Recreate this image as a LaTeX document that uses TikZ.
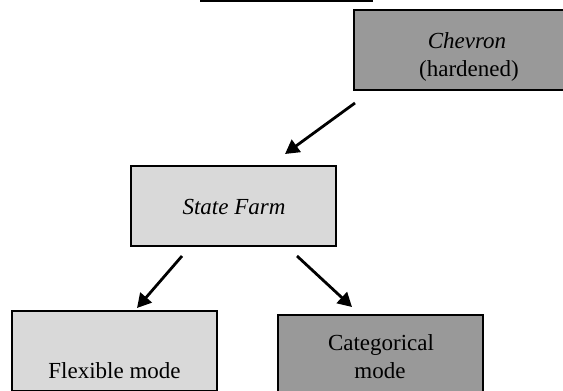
\documentclass[tikz,border=0pt]{standalone}
\usepackage{fontspec}
\setmainfont{Liberation Serif}
\usetikzlibrary{arrows.meta}
\definecolor{darkbox}{HTML}{999999}
\definecolor{lightbox}{HTML}{D9D9D9}
\begin{document}
\begin{tikzpicture}[x=1pt,y=-1pt,
  box/.style={draw=black, line width=1.6pt, minimum width=205pt, minimum height=80pt, inner sep=0pt},
  darkb/.style={box, fill=darkbox},
  lightb/.style={box, fill=lightbox},
  txt/.style={anchor=base, inner sep=0pt, font=\fontsize{23}{28}\selectfont},
  arr/.style={line width=2.8pt, -{Triangle[length=14pt,width=15pt]}}]
\useasboundingbox (0,0) rectangle (563,391);
\begin{scope}
\clip (0,0) rectangle (563,391);
\draw[line width=1.5pt] (200,0.8) -- (373,0.8);
\node[darkb, minimum width=228pt] (chev) at (468,50) {};
\node[lightb] (sf) at (233.5,206) {};
\node[lightb] (flex) at (114.5,351) {};
\node[darkb] (cat) at (380.5,355) {};
\node[txt] (chev1) at (467,48) {\textit{Chevron}};
\node[txt] (chev2) at (469,76) {(hardened)};
\node[txt] (sft) at (234,214) {\textit{State Farm}};
\node[txt] (flext) at (114.5,378) {Flexible mode};
\node[txt] (cat1) at (381,350) {Categorical};
\node[txt] (cat2) at (380,378) {mode};
\coordinate (a1s) at (355,103);
\coordinate (a1e) at (285,154);
\coordinate (a2s) at (182,256);
\coordinate (a2e) at (137,308);
\coordinate (a3s) at (297,256);
\coordinate (a3e) at (352,307);
\draw[arr] (a1s) -- (a1e);
\draw[arr] (a2s) -- (a2e);
\draw[arr] (a3s) -- (a3e);
\end{scope}
\end{tikzpicture}
\end{document}
